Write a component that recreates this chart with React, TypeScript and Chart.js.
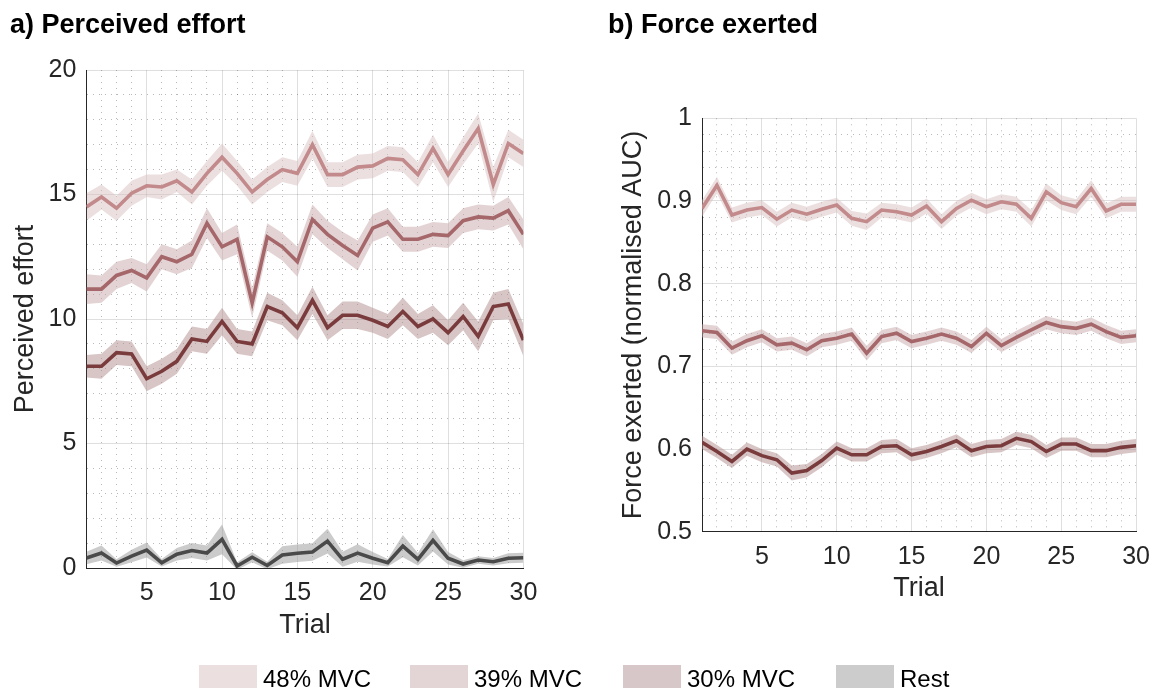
import React, { useEffect, useRef } from "react";
import { Chart, registerables } from "chart.js";

Chart.register(...registerables);

const FONT = '"Liberation Sans", Arial, Helvetica, sans-serif';
const INK = "#262626";
const MAJOR_GRID = "rgba(38,38,38,0.15)";
const MINOR_GRID = "rgba(38,38,38,0.32)";
const MINOR_DASH = [1, 5];

// Trial numbers (x axis)
const trials = [1, 2, 3, 4, 5, 6, 7, 8, 9, 10, 11, 12, 13, 14, 15, 16, 17, 18, 19, 20, 21, 22, 23, 24, 25, 26, 27, 28, 29, 30];

// a) Perceived effort: mean and shaded error per trial
const effort48 = [14.5, 14.9, 14.45, 15.05, 15.35, 15.3, 15.55, 15.1, 15.85, 16.5, 15.85, 15.1, 15.6, 16.0, 15.85, 17.0, 15.8, 15.8, 16.1, 16.15, 16.45, 16.4, 15.8, 16.85, 15.8, 16.75, 17.65, 15.4, 17.05, 16.65];
const effort48Err = [0.55, 0.5, 0.5, 0.5, 0.45, 0.5, 0.45, 0.5, 0.5, 0.55, 0.5, 0.5, 0.5, 0.5, 0.5, 0.55, 0.5, 0.5, 0.5, 0.5, 0.5, 0.5, 0.5, 0.55, 0.5, 0.55, 0.6, 0.7, 0.55, 0.55];
const effort39 = [11.2, 11.2, 11.75, 11.95, 11.65, 12.5, 12.3, 12.6, 13.85, 12.9, 13.2, 10.65, 13.3, 12.9, 12.3, 14.0, 13.4, 12.95, 12.55, 13.65, 13.9, 13.2, 13.2, 13.4, 13.35, 13.95, 14.1, 14.05, 14.35, 13.4];
const effort39Err = [0.6, 0.55, 0.55, 0.5, 0.55, 0.5, 0.5, 0.55, 0.6, 0.55, 0.6, 0.6, 0.55, 0.55, 0.6, 0.6, 0.55, 0.55, 0.6, 0.55, 0.55, 0.5, 0.5, 0.5, 0.5, 0.5, 0.5, 0.5, 0.55, 0.6];
const effort30 = [8.1, 8.1, 8.65, 8.6, 7.6, 7.9, 8.3, 9.2, 9.1, 9.9, 9.1, 9.0, 10.5, 10.25, 9.65, 10.75, 9.65, 10.15, 10.15, 9.95, 9.7, 10.3, 9.7, 10.0, 9.45, 10.1, 9.3, 10.5, 10.6, 9.15];
const effort30Err = [0.45, 0.5, 0.5, 0.5, 0.5, 0.5, 0.5, 0.5, 0.5, 0.55, 0.5, 0.5, 0.55, 0.5, 0.5, 0.55, 0.5, 0.55, 0.55, 0.5, 0.5, 0.55, 0.5, 0.55, 0.5, 0.55, 0.6, 0.55, 0.6, 0.65];
const effortRest = [0.4, 0.6, 0.2, 0.48, 0.72, 0.21, 0.55, 0.7, 0.6, 1.15, 0.08, 0.43, 0.1, 0.52, 0.59, 0.64, 1.08, 0.35, 0.6, 0.39, 0.21, 0.88, 0.35, 1.11, 0.39, 0.16, 0.32, 0.25, 0.39, 0.41];
const effortRestErr = [0.25, 0.3, 0.15, 0.25, 0.3, 0.15, 0.25, 0.3, 0.3, 0.6, 0.15, 0.2, 0.15, 0.35, 0.35, 0.35, 0.5, 0.3, 0.35, 0.25, 0.15, 0.45, 0.25, 0.45, 0.25, 0.15, 0.15, 0.15, 0.2, 0.2];

// b) Force exerted (normalised AUC)
const force48 = [0.891, 0.919, 0.883, 0.889, 0.892, 0.878, 0.889, 0.884, 0.89, 0.895, 0.879, 0.875, 0.889, 0.887, 0.883, 0.894, 0.875, 0.891, 0.901, 0.893, 0.899, 0.896, 0.879, 0.911, 0.898, 0.893, 0.915, 0.888, 0.896, 0.896];
const force48Err = [0.01, 0.01, 0.009, 0.009, 0.009, 0.009, 0.009, 0.009, 0.009, 0.009, 0.009, 0.01, 0.009, 0.009, 0.009, 0.009, 0.009, 0.009, 0.009, 0.009, 0.009, 0.009, 0.01, 0.01, 0.009, 0.009, 0.01, 0.009, 0.009, 0.009];
const force39 = [0.743, 0.741, 0.722, 0.731, 0.737, 0.726, 0.728, 0.72, 0.731, 0.734, 0.739, 0.716, 0.736, 0.74, 0.73, 0.734, 0.739, 0.734, 0.724, 0.74, 0.725, 0.735, 0.744, 0.753, 0.748, 0.746, 0.751, 0.742, 0.735, 0.737];
const force39Err = [0.008, 0.008, 0.008, 0.008, 0.008, 0.008, 0.008, 0.008, 0.008, 0.008, 0.008, 0.009, 0.008, 0.008, 0.008, 0.008, 0.008, 0.008, 0.008, 0.008, 0.008, 0.008, 0.008, 0.008, 0.008, 0.008, 0.008, 0.008, 0.008, 0.008];
const force30 = [0.608, 0.597, 0.585, 0.6, 0.592, 0.587, 0.571, 0.574, 0.586, 0.601, 0.593, 0.593, 0.603, 0.604, 0.593, 0.597, 0.603, 0.61, 0.598, 0.603, 0.604, 0.613, 0.609, 0.597, 0.606, 0.606, 0.598, 0.598, 0.602, 0.604];
const force30Err = [0.008, 0.008, 0.008, 0.008, 0.008, 0.008, 0.009, 0.008, 0.008, 0.008, 0.008, 0.008, 0.008, 0.008, 0.008, 0.008, 0.008, 0.008, 0.008, 0.008, 0.008, 0.008, 0.008, 0.008, 0.008, 0.008, 0.008, 0.008, 0.008, 0.008];

// Condition styling
const COL48 = { line: "#c38a8c", band: "rgba(217,191,193,0.5)", swatch: "#ecdfe0" };
const COL39 = { line: "#a5676a", band: "rgba(199,167,169,0.5)", swatch: "#e3d4d5" };
const COL30 = { line: "#7a3b3d", band: "rgba(177,139,141,0.5)", swatch: "#d8c7c8" };
const COLREST = { line: "#4a4a4a", band: "rgba(151,151,151,0.5)", swatch: "#cccccc" };

const legendLabels = ["48% MVC", "39% MVC", "30% MVC", "Rest"];
const legendSwatches = [COL48.swatch, COL39.swatch, COL30.swatch, COLREST.swatch];

type Series = { label: string; mean: number[]; err: number[]; line: string; band: string };

const pts = (vals: number[]) => vals.map((v, i) => ({ x: trials[i], y: v }));

function buildDatasets(series: Series[]) {
  const lines = series.map((s) => ({
    label: s.label,
    data: pts(s.mean),
    borderColor: s.line,
    borderWidth: 3.6,
    pointRadius: 0,
    tension: 0,
    fill: false,
    order: 0,
  }));
  const bands = series.flatMap((s) => [
    {
      label: s.label + " upper",
      data: pts(s.mean.map((m, i) => m + s.err[i])),
      borderColor: "rgba(0,0,0,0)",
      borderWidth: 0,
      pointRadius: 0,
      tension: 0,
      backgroundColor: s.band,
      fill: "+1",
      order: 1,
    },
    {
      label: s.label + " lower",
      data: pts(s.mean.map((m, i) => m - s.err[i])),
      borderColor: "rgba(0,0,0,0)",
      borderWidth: 0,
      pointRadius: 0,
      tension: 0,
      fill: false,
      order: 1,
    },
  ]);
  return [...lines, ...bands];
}

type PanelSpec = {
  series: Series[];
  yMin: number;
  yMax: number;
  yStep: number;
  isMajorY: (v: number) => boolean;
  yTickText: (v: number) => string;
  yTitle: string;
  padding: { left: number; top: number; right: number; bottom: number };
  yWidth: number;
  xHeight: number;
};

const isMajorX = (v: number) => v % 5 === 0;

function makeConfig(spec: PanelSpec): any {
  const tickFont = { size: 25, family: FONT };
  const titleFont = { size: 27, family: FONT };
  return {
    type: "line",
    data: { datasets: buildDatasets(spec.series) },
    options: {
      animation: false,
      responsive: false,
      events: [],
      layout: { padding: spec.padding },
      plugins: { legend: { display: false }, tooltip: { enabled: false } },
      scales: {
        x: {
          type: "linear",
          min: 1,
          max: 30,
          afterFit: (s: any) => {
            s.height = spec.xHeight;
          },
          ticks: {
            stepSize: 1,
            autoSkip: false,
            maxRotation: 0,
            minRotation: 0,
            padding: 10,
            color: INK,
            font: tickFont,
            callback: (v: any) => (isMajorX(Number(v)) ? String(v) : ""),
          },
          grid: {
            drawTicks: false,
            lineWidth: 1,
            color: (c: any) => (c.tick && isMajorX(c.tick.value) ? MAJOR_GRID : MINOR_GRID),
          },
          border: {
            color: INK,
            width: 1,
            dash: (c: any) => (c.tick && !isMajorX(c.tick.value) ? MINOR_DASH : []),
          },
          title: { display: true, text: "Trial", color: INK, font: titleFont, padding: 0 },
        },
        y: {
          type: "linear",
          min: spec.yMin,
          max: spec.yMax,
          afterFit: (s: any) => {
            s.width = spec.yWidth;
          },
          ticks: {
            stepSize: spec.yStep,
            autoSkip: false,
            padding: 10,
            color: INK,
            font: tickFont,
            callback: (v: any) => (spec.isMajorY(Number(v)) ? spec.yTickText(Number(v)) : ""),
          },
          grid: {
            drawTicks: false,
            lineWidth: 1,
            color: (c: any) => (c.tick && spec.isMajorY(c.tick.value) ? MAJOR_GRID : MINOR_GRID),
          },
          border: {
            color: INK,
            width: 1,
            dash: (c: any) => (c.tick && !spec.isMajorY(c.tick.value) ? MINOR_DASH : []),
          },
          title: { display: true, text: spec.yTitle, color: INK, font: titleFont, padding: 0 },
        },
      },
    },
  };
}

const effortSpec: PanelSpec = {
  series: [
    { label: "48% MVC", mean: effort48, err: effort48Err, ...COL48 },
    { label: "39% MVC", mean: effort39, err: effort39Err, ...COL39 },
    { label: "30% MVC", mean: effort30, err: effort30Err, ...COL30 },
    { label: "Rest", mean: effortRest, err: effortRestErr, ...COLREST },
  ],
  yMin: 0,
  yMax: 20,
  yStep: 1,
  isMajorY: (v) => Math.abs(v % 5) < 1e-9,
  yTickText: (v) => String(v),
  yTitle: "Perceived effort",
  padding: { left: 9, top: 70, right: 56.6, bottom: 48.2 },
  yWidth: 77.4,
  xHeight: 73.8,
};

const forceSpec: PanelSpec = {
  series: [
    { label: "48% MVC", mean: force48, err: force48Err, ...COL48 },
    { label: "39% MVC", mean: force39, err: force39Err, ...COL39 },
    { label: "30% MVC", mean: force30, err: force30Err, ...COL30 },
  ],
  yMin: 0.5,
  yMax: 1,
  yStep: 0.02,
  isMajorY: (v) => Math.abs(v * 10 - Math.round(v * 10)) < 1e-6,
  yTickText: (v) => String(Math.round(v * 10) / 10),
  yTitle: "Force exerted (normalised AUC)",
  padding: { left: 37.1, top: 118.3, right: 21, bottom: 85.5 },
  yWidth: 84.9,
  xHeight: 72.8,
};

function Panel({ spec, left }: { spec: PanelSpec; left: number }) {
  const ref = useRef<HTMLCanvasElement>(null);
  useEffect(() => {
    const chart = new Chart(ref.current as HTMLCanvasElement, makeConfig(spec));
    return () => chart.destroy();
  }, [spec]);
  return (
    <canvas
      ref={ref}
      width={580}
      height={690}
      style={{ position: "absolute", left, top: 0, width: 580, height: 690, display: "block" }}
    />
  );
}

const legendLefts = [199, 410, 623, 836];

export default function App() {
  const titleStyle: React.CSSProperties = {
    position: "absolute",
    top: 10.5,
    fontFamily: FONT,
    fontWeight: "bold",
    fontSize: 27,
    lineHeight: "27px",
    color: "#000",
    whiteSpace: "nowrap",
  };
  return (
    <div
      style={{
        position: "fixed",
        left: 0,
        top: 0,
        width: 1160,
        height: 690,
        background: "#fff",
        overflow: "hidden",
        fontFamily: FONT,
      }}
    >
      <Panel spec={effortSpec} left={0} />
      <Panel spec={forceSpec} left={580} />
      <div style={{ ...titleStyle, left: 10 }}>a) Perceived effort</div>
      <div style={{ ...titleStyle, left: 608 }}>b) Force exerted</div>
      {legendLabels.map((label, i) => (
        <React.Fragment key={label}>
          <div
            style={{
              position: "absolute",
              left: legendLefts[i],
              top: 665,
              width: 58,
              height: 23,
              background: legendSwatches[i],
            }}
          />
          <div
            style={{
              position: "absolute",
              left: legendLefts[i] + 64,
              top: 667,
              fontSize: 24,
              lineHeight: "23px",
              color: "#000",
              whiteSpace: "nowrap",
            }}
          >
            {label}
          </div>
        </React.Fragment>
      ))}
    </div>
  );
}
